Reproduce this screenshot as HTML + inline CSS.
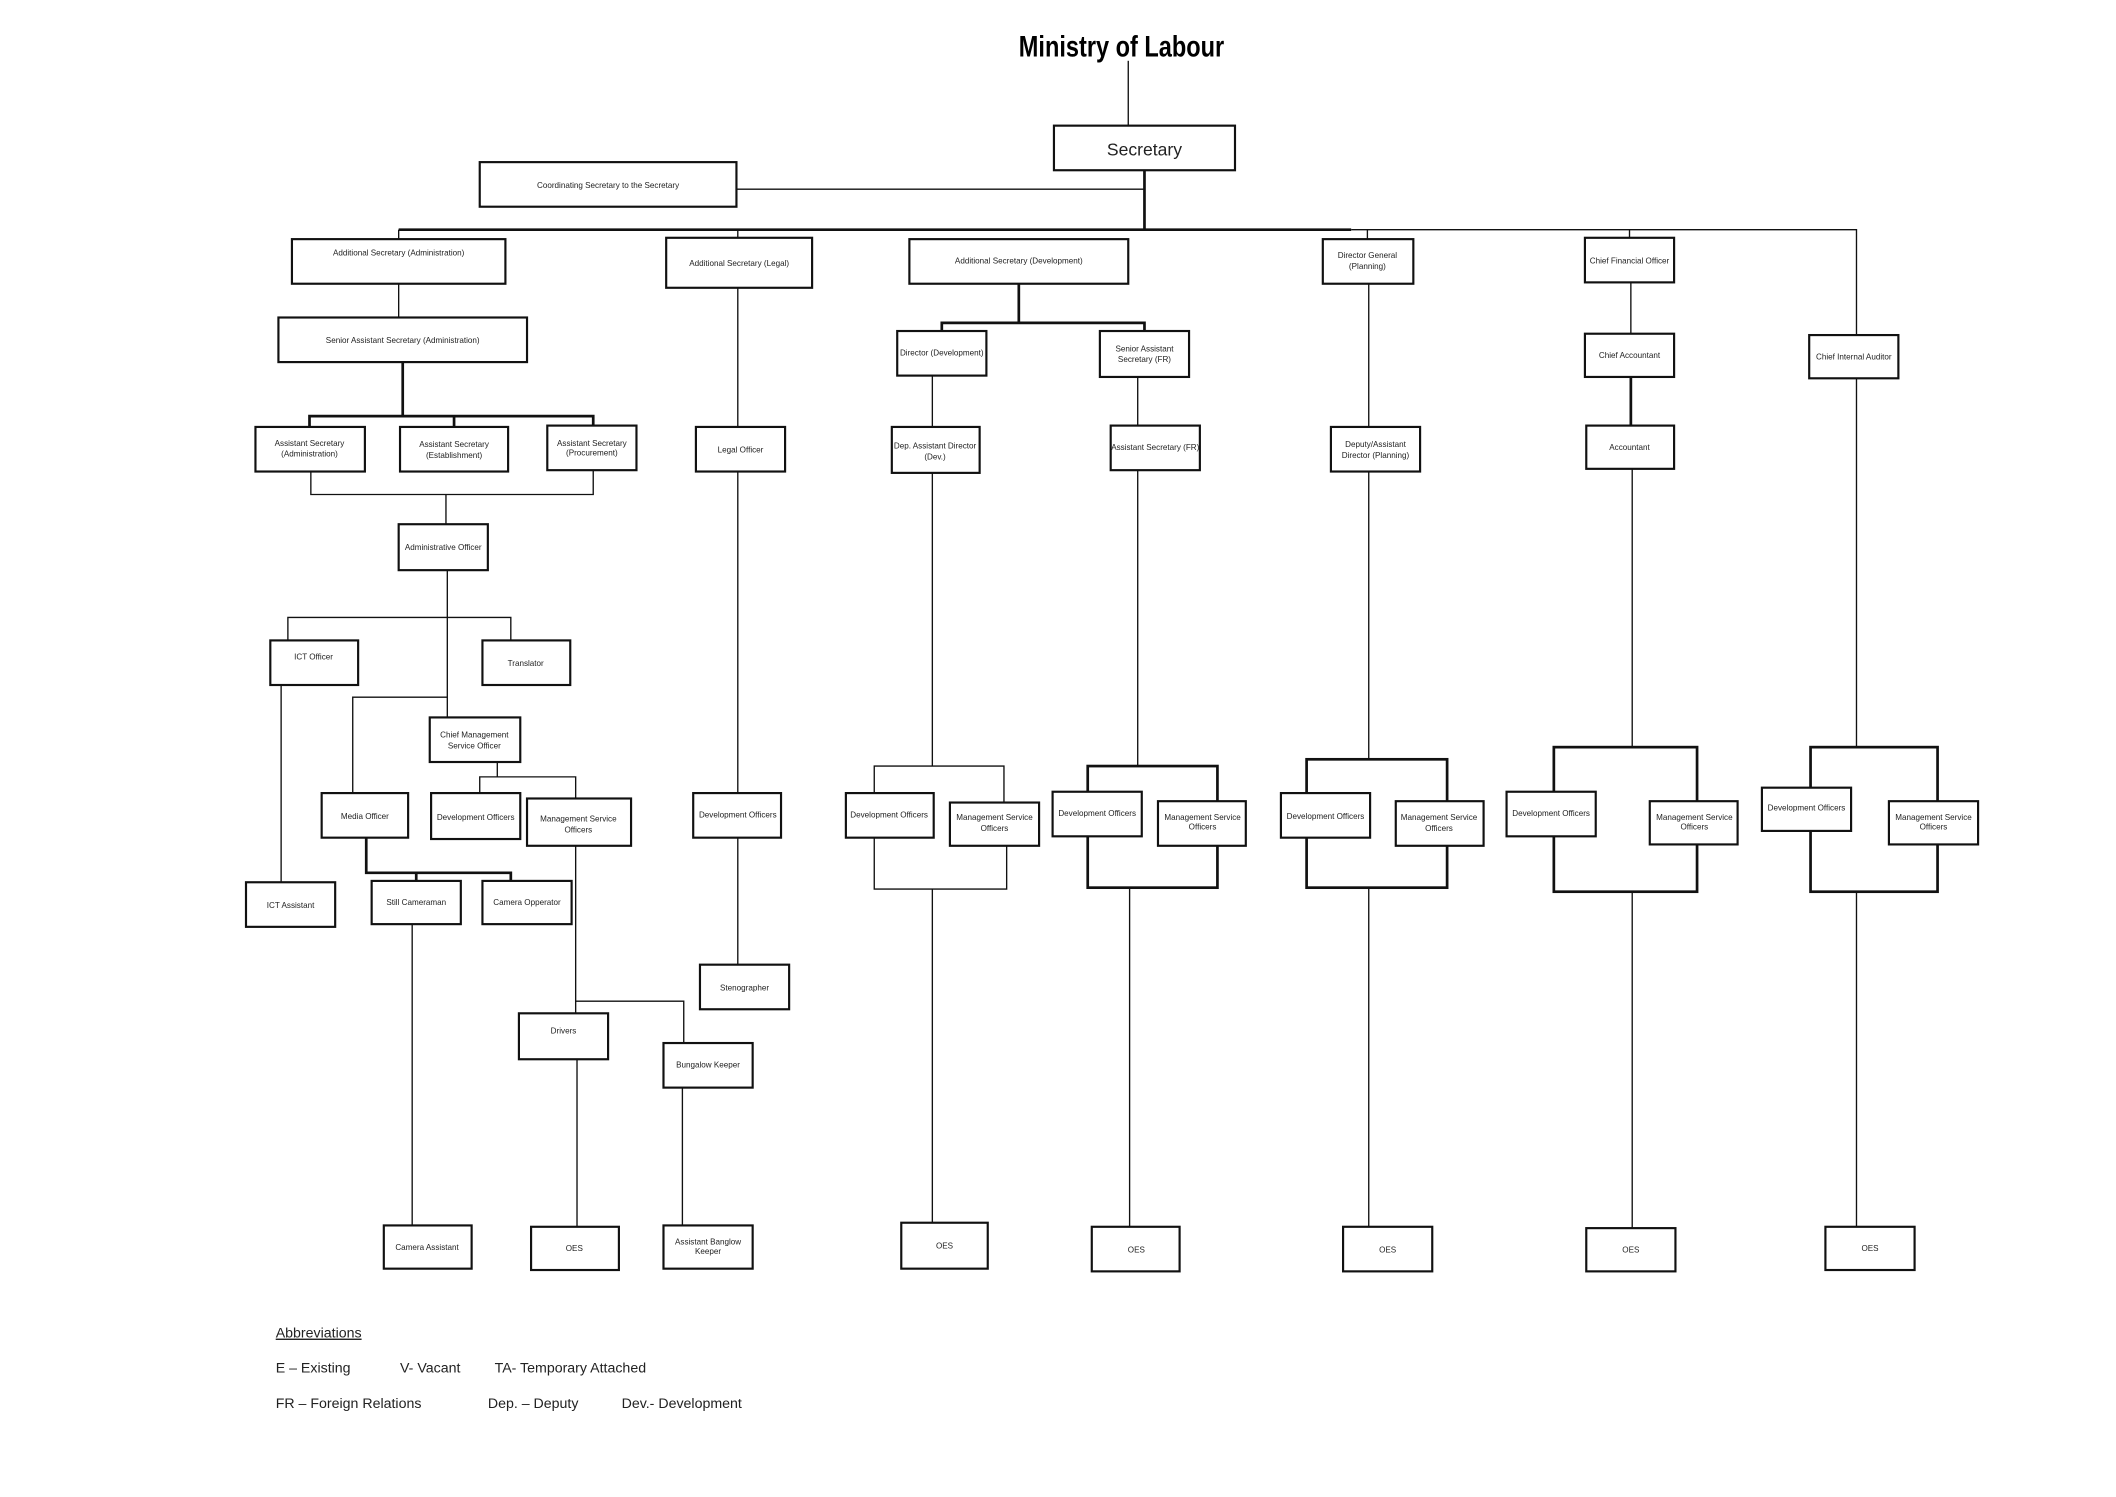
<!DOCTYPE html>
<html><head><meta charset="utf-8"><style>
html,body{margin:0;padding:0;background:#fff;}
svg{display:block;}
text{font-family:"Liberation Sans Narrow","Liberation Sans",sans-serif;fill:#222;}
.b{fill:#fff;stroke:#111;stroke-width:1.6;}
.l{stroke:#111;stroke-width:1;fill:none;}
.t{stroke:#111;stroke-width:2;fill:none;}
.s{font-size:6px;text-anchor:middle;}
.ab{font-family:"Liberation Sans",sans-serif;font-size:10.5px;fill:#111;}
</style></head><body>
<svg width="2116" height="1497" viewBox="0 0 1566 1108" xmlns="http://www.w3.org/2000/svg">
<text x="754" y="42" font-size="22" font-weight="bold" textLength="152" lengthAdjust="spacingAndGlyphs" style="font-family:'Liberation Sans Narrow','Liberation Sans',sans-serif;fill:#000">Ministry of Labour</text>
<g class="l">
<line x1="835" y1="45" x2="835" y2="93"/>
<line x1="545" y1="140" x2="847" y2="140"/>
<polyline points="1000,170 1374,170 1374,248"/>
<line x1="295" y1="170" x2="295" y2="177"/>
<line x1="546" y1="170" x2="546" y2="176"/>
<line x1="1012" y1="170" x2="1012" y2="177"/>
<line x1="1206" y1="170" x2="1206" y2="176"/>
<line x1="295" y1="210" x2="295" y2="235"/>
<polyline points="230,349 230,366 439,366 439,348"/>
<line x1="330" y1="366" x2="330" y2="388"/>
<line x1="331" y1="422" x2="331" y2="531"/>
<polyline points="213,474 213,457 378,457 378,474"/>
<line x1="208" y1="507" x2="208" y2="653"/>
<polyline points="261,587 261,516 331,516"/>
<polyline points="368,564 368,575"/>
<polyline points="355,587 355,575 426,575 426,591"/>
<line x1="305" y1="684" x2="305" y2="907"/>
<line x1="426" y1="626" x2="426" y2="750"/>
<polyline points="426,741 506,741 506,772"/>
<line x1="427" y1="784" x2="427" y2="908"/>
<line x1="505" y1="805" x2="505" y2="907"/>
<line x1="546" y1="213" x2="546" y2="316"/>
<line x1="546" y1="349" x2="546" y2="587"/>
<line x1="546" y1="620" x2="546" y2="714"/>
<line x1="690" y1="278" x2="690" y2="316"/>
<line x1="690" y1="350" x2="690" y2="567"/>
<polyline points="647,587 647,567 743,567 743,594"/>
<polyline points="647,620 647,658 745,658 745,626"/>
<line x1="690" y1="658" x2="690" y2="905"/>
<line x1="842" y1="279" x2="842" y2="316"/>
<line x1="842" y1="348" x2="842" y2="567"/>
<line x1="836" y1="657" x2="836" y2="908"/>
<line x1="1013" y1="210" x2="1013" y2="316"/>
<line x1="1013" y1="349" x2="1013" y2="562"/>
<line x1="1013" y1="657" x2="1013" y2="908"/>
<line x1="1207" y1="209" x2="1207" y2="247"/>
<line x1="1208" y1="347" x2="1208" y2="553"/>
<line x1="1208" y1="660" x2="1208" y2="909"/>
<line x1="1374" y1="280" x2="1374" y2="553"/>
<line x1="1374" y1="660" x2="1374" y2="908"/>
</g>
<g class="t">
<line x1="847" y1="126" x2="847" y2="170"/>
<line x1="295" y1="170" x2="1000" y2="170"/>
<line x1="298" y1="268" x2="298" y2="308"/>
<polyline points="229,316 229,308 439,308 439,315"/>
<line x1="336" y1="308" x2="336" y2="316"/>
<polyline points="271,620 271,646 378,646 378,652"/>
<line x1="308" y1="646" x2="308" y2="652"/>
<line x1="754" y1="210" x2="754" y2="239"/>
<polyline points="697,245 697,239 847,239 847,245"/>
<line x1="1207" y1="279" x2="1207" y2="315"/>
<rect x="805" y="567" width="96" height="90"/>
<rect x="967" y="562" width="104" height="95"/>
<rect x="1150" y="553" width="106" height="107"/>
<rect x="1340" y="553" width="94" height="107"/>
</g>
<g class="b">
<rect x="780" y="93" width="134" height="33"/>
<rect x="355" y="120" width="190" height="33"/>
<rect x="216" y="177" width="158" height="33"/>
<rect x="493" y="176" width="108" height="37"/>
<rect x="673" y="177" width="162" height="33"/>
<rect x="979" y="177" width="67" height="33"/>
<rect x="1173" y="176" width="66" height="33"/>
<rect x="206" y="235" width="184" height="33"/>
<rect x="664" y="245" width="66" height="33"/>
<rect x="814" y="245" width="66" height="34"/>
<rect x="1173" y="247" width="66" height="32"/>
<rect x="1339" y="248" width="66" height="32"/>
<rect x="189" y="316" width="81" height="33"/>
<rect x="296" y="316" width="80" height="33"/>
<rect x="405" y="315" width="66" height="33"/>
<rect x="515" y="316" width="66" height="33"/>
<rect x="660" y="316" width="65" height="34"/>
<rect x="822" y="315" width="66" height="33"/>
<rect x="985" y="316" width="66" height="33"/>
<rect x="1174" y="315" width="65" height="32"/>
<rect x="295" y="388" width="66" height="34"/>
<rect x="200" y="474" width="65" height="33"/>
<rect x="357" y="474" width="65" height="33"/>
<rect x="318" y="531" width="67" height="33"/>
<rect x="238" y="587" width="64" height="33"/>
<rect x="319" y="587" width="66" height="34"/>
<rect x="390" y="591" width="77" height="35"/>
<rect x="513" y="587" width="65" height="33"/>
<rect x="626" y="587" width="65" height="33"/>
<rect x="703" y="594" width="66" height="32"/>
<rect x="779" y="586" width="66" height="33"/>
<rect x="857" y="593" width="65" height="33"/>
<rect x="948" y="587" width="66" height="33"/>
<rect x="1033" y="593" width="65" height="33"/>
<rect x="1115" y="586" width="66" height="33"/>
<rect x="1221" y="593" width="65" height="32"/>
<rect x="1304" y="583" width="66" height="32"/>
<rect x="1398" y="593" width="66" height="32"/>
<rect x="182" y="653" width="66" height="33"/>
<rect x="275" y="652" width="66" height="32"/>
<rect x="357" y="652" width="66" height="32"/>
<rect x="518" y="714" width="66" height="33"/>
<rect x="384" y="750" width="66" height="34"/>
<rect x="491" y="772" width="66" height="33"/>
<rect x="284" y="907" width="65" height="32"/>
<rect x="393" y="908" width="65" height="32"/>
<rect x="491" y="907" width="66" height="32"/>
<rect x="667" y="905" width="64" height="34"/>
<rect x="808" y="908" width="65" height="33"/>
<rect x="994" y="908" width="66" height="33"/>
<rect x="1174" y="909" width="66" height="32"/>
<rect x="1351" y="908" width="66" height="32"/>
</g>
<text x="847" y="115" font-size="13" text-anchor="middle" style="font-family:'Liberation Sans',sans-serif">Secretary</text>
<g class="s">
<text x="450" y="139">Coordinating Secretary to the Secretary</text>
<text x="295" y="189">Additional Secretary (Administration)</text>
<text x="547" y="197">Additional Secretary (Legal)</text>
<text x="754" y="195">Additional Secretary (Development)</text>
<text x="1012" y="191">Director General</text><text x="1012" y="199">(Planning)</text>
<text x="1206" y="195">Chief Financial Officer</text>
<text x="298" y="254">Senior Assistant Secretary (Administration)</text>
<text x="697" y="263">Director (Development)</text>
<text x="847" y="260">Senior Assistant</text><text x="847" y="268">Secretary (FR)</text>
<text x="1206" y="265">Chief Accountant</text>
<text x="1372" y="266">Chief Internal Auditor</text>
<text x="229" y="330">Assistant Secretary</text><text x="229" y="338">(Administration)</text>
<text x="336" y="331">Assistant Secretary</text><text x="336" y="339">(Establishment)</text>
<text x="438" y="330">Assistant Secretary</text><text x="438" y="337">(Procurement)</text>
<text x="548" y="335">Legal Officer</text>
<text x="692" y="332">Dep. Assistant Director</text><text x="692" y="340">(Dev.)</text>
<text x="855" y="333">Assistant Secretary (FR)</text>
<text x="1018" y="331">Deputy/Assistant</text><text x="1018" y="339">Director (Planning)</text>
<text x="1206" y="333">Accountant</text>
<text x="328" y="407">Administrative Officer</text>
<text x="232" y="488">ICT Officer</text>
<text x="389" y="493">Translator</text>
<text x="351" y="546">Chief Management</text><text x="351" y="554">Service Officer</text>
<text x="270" y="606">Media Officer</text>
<text x="352" y="607">Development Officers</text>
<text x="428" y="608">Management Service</text><text x="428" y="616">Officers</text>
<text x="546" y="605">Development Officers</text>
<text x="658" y="605">Development Officers</text>
<text x="736" y="607">Management Service</text><text x="736" y="615">Officers</text>
<text x="812" y="604">Development Officers</text>
<text x="890" y="607">Management Service</text><text x="890" y="614">Officers</text>
<text x="981" y="606">Development Officers</text>
<text x="1065" y="607">Management Service</text><text x="1065" y="615">Officers</text>
<text x="1148" y="604">Development Officers</text>
<text x="1254" y="607">Management Service</text><text x="1254" y="614">Officers</text>
<text x="1337" y="600">Development Officers</text>
<text x="1431" y="607">Management Service</text><text x="1431" y="614">Officers</text>
<text x="215" y="672">ICT Assistant</text>
<text x="308" y="670">Still Cameraman</text>
<text x="390" y="670">Camera Opperator</text>
<text x="551" y="733">Stenographer</text>
<text x="417" y="765">Drivers</text>
<text x="524" y="790">Bungalow Keeper</text>
<text x="316" y="925">Camera Assistant</text>
<text x="425" y="926">OES</text>
<text x="524" y="921">Assistant Banglow</text><text x="524" y="928">Keeper</text>
<text x="699" y="924">OES</text>
<text x="841" y="927">OES</text>
<text x="1027" y="927">OES</text>
<text x="1207" y="927">OES</text>
<text x="1384" y="926">OES</text>
</g>
<g class="ab">
<text x="204" y="990" text-decoration="underline">Abbreviations</text>
<text x="204" y="1016">E – Existing</text>
<text x="296" y="1016">V- Vacant</text>
<text x="366" y="1016">TA- Temporary Attached</text>
<text x="204" y="1042">FR – Foreign Relations</text>
<text x="361" y="1042">Dep. – Deputy</text>
<text x="460" y="1042">Dev.- Development</text>
</g>
</svg>
</body></html>
